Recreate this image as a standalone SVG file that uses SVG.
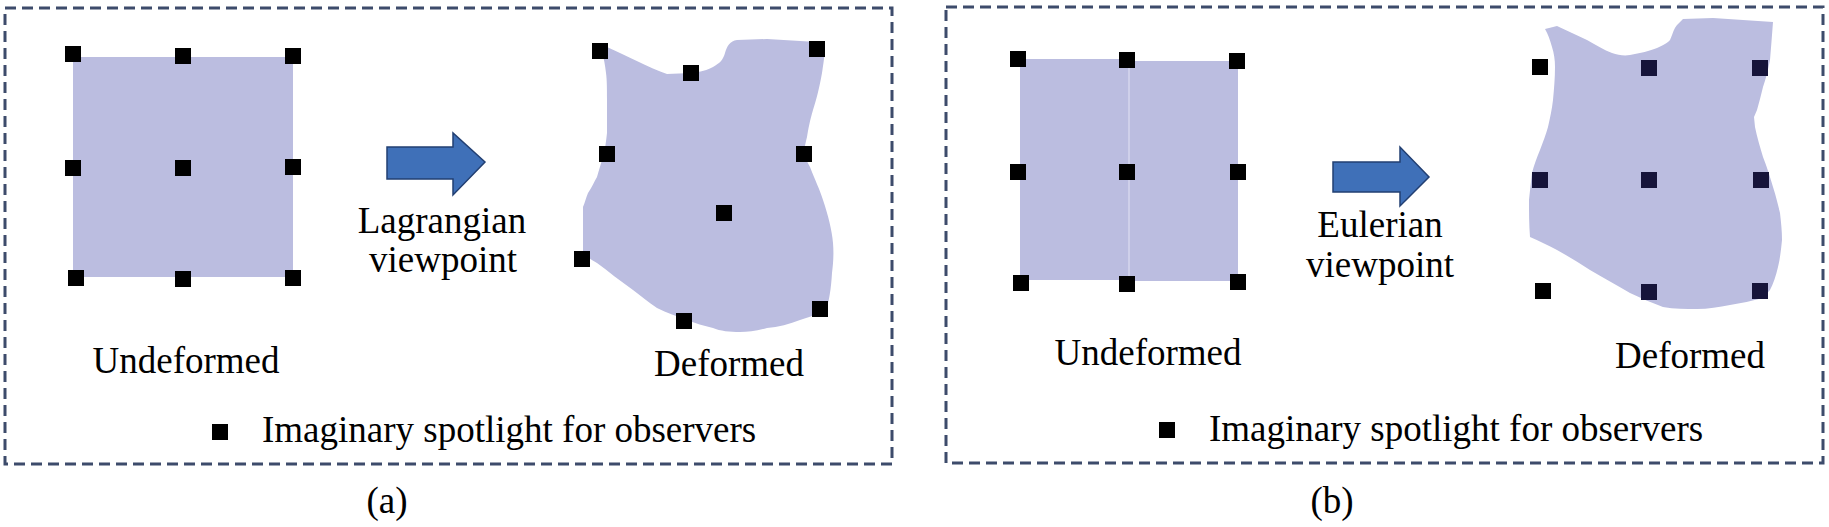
<svg xmlns="http://www.w3.org/2000/svg" width="1829" height="527" viewBox="0 0 1829 527">
<defs>
<style>
.frame{fill:none;stroke:#3d4b6b;stroke-width:3;stroke-dasharray:11 6}
.shape{fill:#bbbde0}
.m{fill:#000}
.mb{fill:#16143a}
.arrow{fill:#3f70b8;stroke:#223f72;stroke-width:1.5;stroke-linejoin:miter}
.t{font-family:"Liberation Serif","Times New Roman",serif;font-size:37px;fill:#000;text-anchor:middle}
.tl{font-family:"Liberation Serif","Times New Roman",serif;font-size:37px;fill:#000}
</style>
<rect id="mk" x="-8" y="-8" width="16" height="16"/>
</defs>
<rect width="1829" height="527" fill="#fff"/>

<!-- Panel (a) -->
<g id="panel-a">
<rect class="frame" x="5" y="8" width="887" height="456"/>
<g id="a-undeformed">
<rect class="shape" x="73" y="57" width="220" height="220"/>
<g class="m">
<use href="#mk" x="73" y="54"/><use href="#mk" x="183" y="56"/><use href="#mk" x="293" y="56"/>
<use href="#mk" x="73" y="168"/><use href="#mk" x="183" y="168"/><use href="#mk" x="293" y="167"/>
<use href="#mk" x="76" y="278"/><use href="#mk" x="183" y="279"/><use href="#mk" x="293" y="278"/>
</g>
<text class="t" x="186" y="373">Undeformed</text>
</g>
<g id="a-arrow">
<polygon class="arrow" points="387,147 453,147 453,133 485,162 453,195 453,179 387,179"/>
<text class="t" x="442" y="233">Lagrangian</text>
<text class="t" x="443" y="272">viewpoint</text>
</g>
<g id="a-deformed">
<path class="shape" d="M600,47 L607,47 C625,55 650,68 667,74 L691,73 C700,72 708,70 713,67 C720,63 723,60 725,53 C727,46 730,41 737,40 L767,39 L817,42 L825,50 C824,60 823,66 822,73 C819,90 816,100 813,110 C810,120 808,130 807,137 C805,145 804,150 804,154 C806,160 808,163 810,167 C815,180 820,190 823,200 C828,215 832,230 833,243 C834,255 833,265 832,273 C831,290 829,300 827,307 L820,313 C812,316 806,318 800,320 C790,324 778,327 767,328 C757,331 748,332 740,332 C730,332 720,331 713,328 C704,326 695,323 687,320 C677,316 667,313 657,308 C648,302 641,296 633,290 C620,281 608,271 597,263 C590,259 586,256 583,253 C583,240 583,230 583,220 L583,207 C585,202 586,198 588,193 C592,187 594,182 597,177 C599,170 601,163 603,157 C605,150 606,142 607,133 C607,120 607,110 607,100 C607,90 607,80 606,73 C605,65 604,58 602,53 Z"/>
<g class="m">
<use href="#mk" x="600" y="51"/><use href="#mk" x="691" y="73"/><use href="#mk" x="817" y="49"/>
<use href="#mk" x="607" y="154"/><use href="#mk" x="804" y="154"/><use href="#mk" x="724" y="213"/>
<use href="#mk" x="582" y="259"/><use href="#mk" x="684" y="321"/><use href="#mk" x="820" y="309"/>
</g>
<text class="t" x="729" y="376">Deformed</text>
</g>
<g id="a-legend">
<use class="m" href="#mk" x="220" y="432"/>
<text class="tl" x="262" y="442">Imaginary spotlight for observers</text>
</g>
</g>
<text id="label-a" class="t" x="387" y="513">(a)</text>

<!-- Panel (b) -->
<g id="panel-b">
<rect class="frame" x="946" y="7" width="877" height="456"/>
<g id="b-undeformed">
<rect class="shape" x="1020" y="59" width="108" height="221"/>
<rect class="shape" x="1130" y="61" width="108" height="220"/>
<rect x="1128" y="60" width="2" height="221" fill="#cfd0ea"/>
<g class="m">
<use href="#mk" x="1018" y="59"/><use href="#mk" x="1127" y="60"/><use href="#mk" x="1237" y="61"/>
<use href="#mk" x="1018" y="172"/><use href="#mk" x="1127" y="172"/><use href="#mk" x="1238" y="172"/>
<use href="#mk" x="1021" y="283"/><use href="#mk" x="1127" y="284"/><use href="#mk" x="1238" y="282"/>
</g>
<text class="t" x="1148" y="365">Undeformed</text>
</g>
<g id="b-arrow">
<polygon class="arrow" points="1333,162 1400,162 1400,147 1429,177 1400,206 1400,192 1333,192"/>
<text class="t" x="1380" y="237">Eulerian</text>
<text class="t" x="1380" y="277">viewpoint</text>
</g>
<g id="b-deformed">
<path class="shape" d="M1545,29 L1557,26 C1567,31 1577,35 1587,40 C1596,45 1604,50 1612,53 C1618,55 1624,56 1630,55 C1640,53 1650,51 1657,48 C1663,45 1668,43 1670,40 C1673,33 1674,28 1677,25 L1683,19 L1713,18 L1773,22 C1772,35 1771,48 1770,60 C1768,70 1766,78 1763,87 C1761,95 1759,103 1757,110 L1754,117 L1755,127 C1757,137 1760,147 1763,157 C1767,167 1770,177 1773,187 C1776,196 1778,205 1780,213 C1781,222 1782,231 1782,240 C1781,250 1780,259 1778,267 C1776,276 1773,284 1770,290 L1763,298 C1752,301 1741,303 1730,305 C1719,307 1708,309 1697,309 C1686,309 1674,309 1663,307 C1652,303 1641,298 1630,293 C1617,285 1603,278 1590,270 C1579,263 1568,256 1557,250 C1548,245 1539,241 1530,237 C1529,225 1529,212 1529,200 C1530,190 1531,182 1532,173 C1534,165 1537,157 1540,150 C1543,142 1546,134 1548,127 C1550,118 1552,109 1553,100 C1554,89 1555,78 1555,67 C1555,60 1554,53 1552,47 C1550,40 1548,34 1545,29 Z"/>
<g class="m">
<use href="#mk" x="1540" y="67"/><use href="#mk" x="1543" y="291"/>
</g>
<g class="mb">
<use href="#mk" x="1649" y="68"/><use href="#mk" x="1760" y="68"/>
<use href="#mk" x="1540" y="180"/><use href="#mk" x="1649" y="180"/><use href="#mk" x="1761" y="180"/>
<use href="#mk" x="1649" y="292"/><use href="#mk" x="1760" y="291"/>
</g>
<text class="t" x="1690" y="368">Deformed</text>
</g>
<g id="b-legend">
<use class="m" href="#mk" x="1167" y="430"/>
<text class="tl" x="1209" y="441">Imaginary spotlight for observers</text>
</g>
</g>
<text id="label-b" class="t" x="1332" y="513">(b)</text>
<g id="connectors"/>
</svg>
